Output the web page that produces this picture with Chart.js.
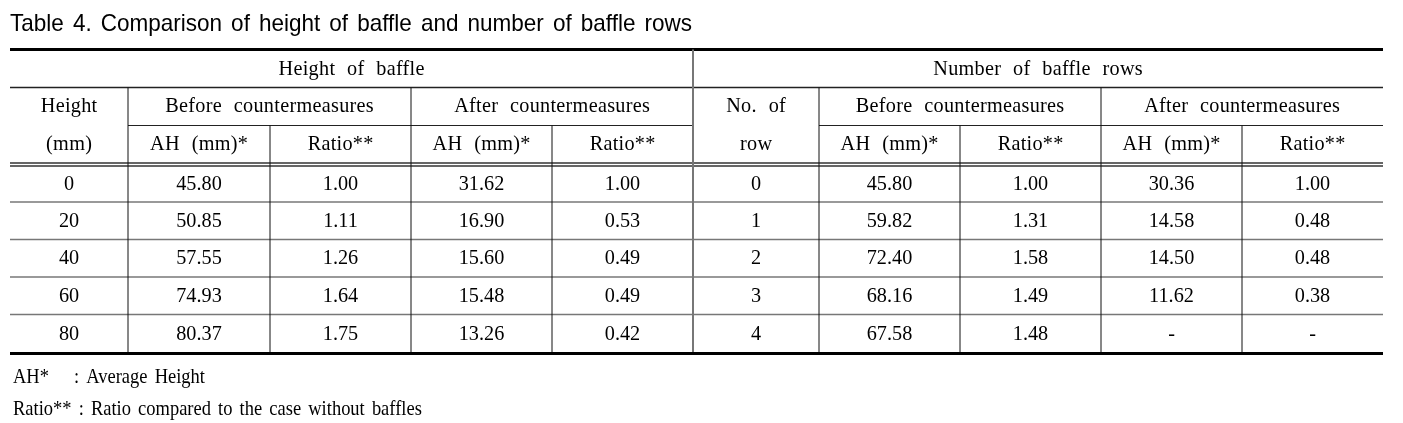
<!DOCTYPE html>
<html>
<head>
<meta charset="utf-8">
<script src="https://cdn.jsdelivr.net/npm/chart.js@4.4.1/dist/chart.umd.min.js"></script>
<style>
  html, body { margin: 0; padding: 0; background: #fff; }
  #wrap { width: 1403px; height: 423px; position: relative; }
</style>
</head>
<body>
<div id="wrap"><canvas id="tabla"></canvas></div>
<script>
// Datos de la tabla
const titulo = "Table 4. Comparison of height of baffle and number of baffle rows";
const grupos = ["Height of baffle", "Number of baffle rows"];
const subGrupos = ["Before countermeasures", "After countermeasures"];
const subColumnas = ["AH (mm)*", "Ratio**"];
const primeraColumna = [["Height", "(mm)"], ["No. of", "row"]];

const alturas = [0, 20, 40, 60, 80];
const alturaAntesAH = [45.80, 50.85, 57.55, 74.93, 80.37];
const alturaAntesRatio = [1.00, 1.11, 1.26, 1.64, 1.75];
const alturaDespuesAH = [31.62, 16.90, 15.60, 15.48, 13.26];
const alturaDespuesRatio = [1.00, 0.53, 0.49, 0.49, 0.42];

const filas = [0, 1, 2, 3, 4];
const filasAntesAH = [45.80, 59.82, 72.40, 68.16, 67.58];
const filasAntesRatio = [1.00, 1.31, 1.58, 1.49, 1.48];
const filasDespuesAH = [30.36, 14.58, 14.50, 11.62, null];
const filasDespuesRatio = [1.00, 0.48, 0.48, 0.38, null];

const notas = [["AH*", ": Average Height"], ["Ratio**", ": Ratio compared to the case without baffles"]];

// Geometría (unidades de las escalas)
const bordesCol = [10, 128, 270, 411, 552, 693, 819, 960, 1101, 1242, 1383];
const lineaTop = 49.5;
const lineaGrupo = 87.5;
const lineaSub = 125.5;
const dobleLinea = [163, 166];
const bordesFila = [166, 202, 239.5, 277, 314.5, 353.5];

const serif = '"Liberation Serif", "Times New Roman", serif';

function fmt(v, esEntero) {
    if (v === null || v === undefined) return "-";
    return esEntero ? String(v) : v.toFixed(2);
}

const pluginTabla = {
    id: "pluginTabla",
    afterDraw(chart) {
        const ctx = chart.ctx;
        const sx = chart.scales.x;
        const sy = chart.scales.y;
        const px = (v) => sx.getPixelForValue(v);
        const py = (v) => sy.getPixelForValue(v);

        function linea(x1, y1, x2, y2, color, ancho) {
            ctx.save();
            ctx.strokeStyle = color;
            ctx.lineWidth = ancho;
            ctx.beginPath();
            ctx.moveTo(px(x1), py(y1));
            ctx.lineTo(px(x2), py(y2));
            ctx.stroke();
            ctx.restore();
        }

        // texto condensado, como en la tabla original
        function texto(str, x, y, align, opts) {
            const o = Object.assign({ size: 22, escala: 0.92, letra: 0.3, palabra: 7 }, opts);
            ctx.save();
            ctx.fillStyle = "#000";
            ctx.font = o.size + "px " + serif;
            ctx.letterSpacing = o.letra + "px";
            ctx.wordSpacing = o.palabra + "px";
            ctx.textAlign = "left";
            ctx.textBaseline = "middle";
            const w = ctx.measureText(str).width - o.letra;
            let x0 = px(x);
            if (align === "center") x0 -= (w * o.escala) / 2;
            ctx.translate(x0, py(y));
            ctx.scale(o.escala, 1);
            ctx.fillText(str, 0, 0);
            ctx.restore();
        }

        // Título, ajustado al ancho de la mitad izquierda
        ctx.save();
        ctx.font = '24px "Liberation Sans", Arial, sans-serif';
        ctx.fillStyle = "#000";
        ctx.textBaseline = "middle";
        ctx.wordSpacing = "3px";
        const ancho = ctx.measureText(titulo).width;
        const escala = (px(692) - px(10)) / ancho;
        ctx.translate(px(10), py(24));
        ctx.scale(escala, 1);
        ctx.fillText(titulo, 0, 0);
        ctx.restore();

        const izq = bordesCol[0];
        const der = bordesCol[bordesCol.length - 1];
        const fondo = bordesFila[bordesFila.length - 1];

        // Encabezados
        [0, 1].forEach((g) => {
            const c0 = g * 5;
            texto(grupos[g], (bordesCol[c0] + bordesCol[c0 + 5]) / 2, 69, "center");
            const cx = (bordesCol[c0] + bordesCol[c0 + 1]) / 2;
            texto(primeraColumna[g][0], cx, 106, "center");
            texto(primeraColumna[g][1], cx, 144, "center");
            [0, 1].forEach((s) => {
                const a = c0 + 1 + s * 2;
                texto(subGrupos[s], (bordesCol[a] + bordesCol[a + 2]) / 2, 106, "center");
                [0, 1].forEach((k) => {
                    texto(subColumnas[k], (bordesCol[a + k] + bordesCol[a + k + 1]) / 2, 144, "center");
                });
            });
        });

        // Celdas
        const columnas = [
            [alturas, true], [alturaAntesAH], [alturaAntesRatio], [alturaDespuesAH], [alturaDespuesRatio],
            [filas, true], [filasAntesAH], [filasAntesRatio], [filasDespuesAH], [filasDespuesRatio],
        ];
        columnas.forEach(([serie, entero], c) => {
            const cx = (bordesCol[c] + bordesCol[c + 1]) / 2;
            serie.forEach((v, r) => {
                const cy = (bordesFila[r] + bordesFila[r + 1]) / 2;
                texto(fmt(v, entero), cx, cy, "center", { letra: 0 });
            });
        });

        // Líneas horizontales
        linea(izq, lineaTop, der, lineaTop, "#000", 3);
        linea(izq, lineaGrupo, der, lineaGrupo, "#222", 1.3);
        linea(bordesCol[1], lineaSub, bordesCol[5], lineaSub, "#222", 1.2);
        linea(bordesCol[6], lineaSub, bordesCol[10], lineaSub, "#222", 1.2);
        dobleLinea.forEach((y) => linea(izq, y, der, y, "#333", 1.3));
        bordesFila.slice(1, -1).forEach((y) => linea(izq, y, der, y, "#777", 1.5));
        linea(izq, fondo, der, fondo, "#000", 3);

        // Líneas verticales
        [1, 3, 6, 8].forEach((c) => linea(bordesCol[c], lineaGrupo, bordesCol[c], fondo - 1.5, "#111", 1));
        [2, 4, 7, 9].forEach((c) => linea(bordesCol[c], lineaSub, bordesCol[c], fondo - 1.5, "#111", 1));
        linea(bordesCol[5], lineaTop, bordesCol[5], fondo - 1.5, "#777", 2);

        // Notas al pie
        const nota = { escala: 0.84, letra: 0, palabra: 3 };
        texto(notas[0][0], 13, 377, "left", nota);
        texto(notas[0][1], 74, 377, "left", nota);
        texto(notas[1][0] + " " + notas[1][1], 13, 409, "left", nota);
    },
};

new Chart(document.getElementById("tabla").getContext("2d"), {
    type: "scatter",
    data: { datasets: [{ data: [] }] },
    options: {
        responsive: true,
        maintainAspectRatio: false,
        animation: false,
        events: [],
        layout: { padding: 0 },
        plugins: { legend: { display: false }, tooltip: { enabled: false } },
        scales: {
            x: { type: "linear", min: 0, max: 1403, display: false },
            y: { type: "linear", min: 0, max: 423, reverse: true, display: false },
        },
    },
    plugins: [pluginTabla],
});
</script>
</body>
</html>
